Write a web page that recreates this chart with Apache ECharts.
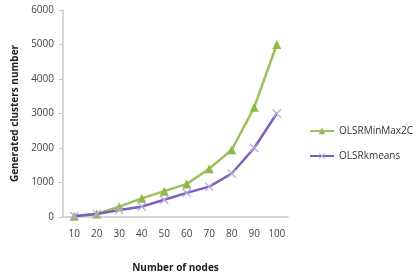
<!DOCTYPE html>
<html><head><meta charset="utf-8">
<script src="https://cdn.jsdelivr.net/npm/echarts@6/dist/echarts.min.js"></script>
<style>html,body{margin:0;padding:0;background:#fff}#c{width:416px;height:280px}</style>
</head><body><div id="c"></div>
<script>
const categories = ['10','20','30','40','50','60','70','80','90','100'];
const minMax2C = [20, 90, 300, 540, 750, 960, 1400, 1950, 3180, 5000];
const kmeans = [30, 90, 200, 300, 500, 700, 880, 1260, 2000, 3000];
const yTicks = [0, 1000, 2000, 3000, 4000, 5000, 6000];

const xPath = 'path://M1,0L5,4L9,0L10,1L6,5L10,9L9,10L5,6L1,10L0,9L4,5L0,1Z';
const font = '"Open Sans", "Liberation Sans", sans-serif';
const chart = echarts.init(document.getElementById('c'));
chart.setOption({
  animation: false,
  textStyle: {fontFamily: font},
  grid: {left: 63, right: 128, top: 10, bottom: 63},
  legend: {
    orient: 'vertical', left: 304, top: 121, itemGap: 15,
    itemWidth: 24, itemHeight: 8,
    textStyle: {fontFamily: font, fontSize: 10, color: '#333'},
    data: ['OLSRMinMax2C', 'OLSRkmeans']
  },
  xAxis: {
    type: 'category', data: categories, boundaryGap: true,
    name: 'Number of nodes', nameLocation: 'middle', nameGap: 46,
    nameTextStyle: {fontFamily: font, fontSize: 10, fontWeight: 'bold', color: '#222'},
    axisLine: {lineStyle: {color: '#c8c8c8', width: 1.5}},
    axisTick: {show: false},
    axisLabel: {fontFamily: font, fontSize: 10, color: '#444', margin: 12}
  },
  yAxis: {
    type: 'value', min: 0, max: 6000, interval: 1000,
    name: 'Generated clusters number', nameLocation: 'middle', nameGap: 42,
    nameTextStyle: {fontFamily: font, fontSize: 10, fontWeight: 'bold', color: '#222'},
    axisLine: {show: true, lineStyle: {color: '#c8c8c8', width: 1.5}},
    axisTick: {show: true, length: 4, lineStyle: {color: '#c8c8c8'}},
    splitLine: {show: false},
    axisLabel: {fontFamily: font, fontSize: 10, color: '#444', margin: 9,
      formatter: v => yTicks.includes(v) ? String(v) : ''}
  },
  series: [
    {name: 'OLSRMinMax2C', type: 'line', data: minMax2C,
     symbol: 'triangle', symbolSize: 9,
     lineStyle: {color: '#9bc25a', width: 2.5},
     itemStyle: {color: '#8fba4a'}},
    {name: 'OLSRkmeans', type: 'line', data: kmeans,
     symbol: xPath, symbolSize: 9,
     lineStyle: {color: '#7b5fbd', width: 2.5},
     itemStyle: {color: '#b9a8dc'}}
  ]
});
</script></body></html>
